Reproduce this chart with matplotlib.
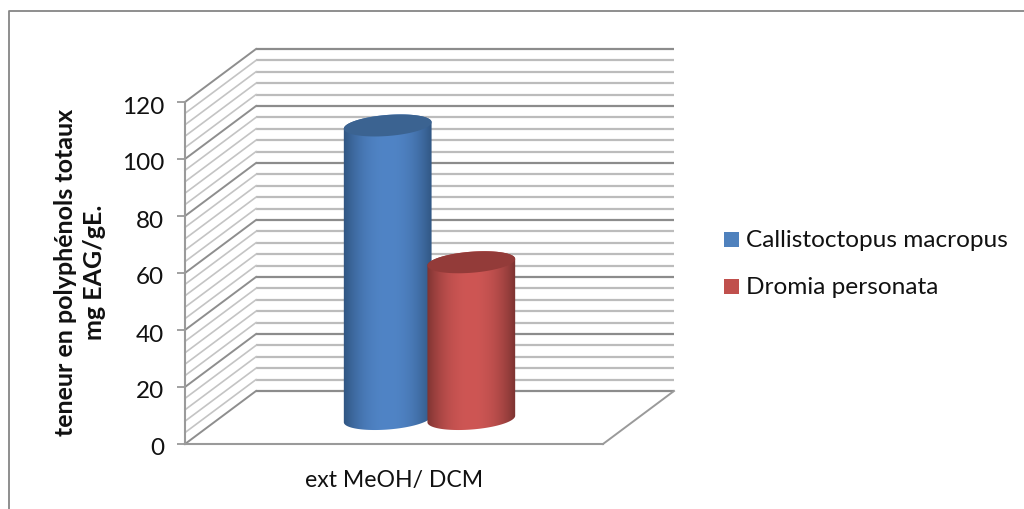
import matplotlib
matplotlib.use("Agg")
import matplotlib.pyplot as plt
import numpy as np
from matplotlib.lines import Line2D
from matplotlib.path import Path
from matplotlib.patches import PathPatch, Rectangle
from matplotlib.transforms import Affine2D, IdentityTransform, ScaledTranslation

plt.rcParams["font.family"] = ["Lato", "DejaVu Sans"]

# ---- data ----
category = "ext MeOH/ DCM"
series_names = ["Callistoctopus macropus", "Dromia personata"]
series_values = [103, 55]
bar_positions = [0.4, 0.6]
y_ticks = [0, 20, 40, 60, 80, 100, 120]
minor_step = 4

# ---- styles ----
face_colors = ["#4f81bd", "#c0504d"]
mid_colors = ["#5084c6", "#ce5654"]
edge_colors = ["#2f5480", "#7a3230"]
top_colors = ["#3b6391", "#933b39"]
major_grid = "#8c8c8c"
minor_grid = "#bcbcbc"

W, H = 1024, 510
DEPTH_X, DEPTH_Y = 71, 53


def to_fig(px0, px1, py0, py1):
    return [px0 / W, 1 - py1 / H, (px1 - px0) / W, (py1 - py0) / H]


fig = plt.figure(figsize=(W / 100, H / 100), dpi=100)

# chart frame, only the top and left sides fall inside the figure
fig.add_artist(Line2D([8.5 / W, 8.5 / W, 1], [0, 1 - 11.5 / H, 1 - 11.5 / H], transform=fig.transFigure,
                      color="#868686", lw=1.3))

ax = fig.add_axes(to_fig(185, 603, 103, 445))
ax.set_xlim(0, 1)
ax.set_ylim(0, 120)
ax.patch.set_visible(False)
for name in ["top", "right"]:
    ax.spines[name].set_visible(False)
for name in ["left", "bottom"]:
    ax.spines[name].set_color("#9a9a9a")
    ax.spines[name].set_linewidth(1.5)

ax.set_yticks(y_ticks)
ax.tick_params(axis="y", length=6, width=1.3, color="#9a9a9a", labelsize=17.5, pad=9, labelcolor="#111111")
ax.set_xticks([0.5])
ax.set_xticklabels([category])
ax.tick_params(axis="x", length=0, labelsize=16.6, pad=18, labelcolor="#111111")

# nudge the value labels down a little
for label in ax.get_yticklabels():
    label.set_transform(label.get_transform() + ScaledTranslation(0, -2 / 100, fig.dpi_scale_trans))

back = ax.transData + Affine2D().translate(DEPTH_X, DEPTH_Y)
mid = ax.transData + Affine2D().translate(DEPTH_X / 2, 25)

# side wall and back wall grid
levels = np.arange(0, 120 + minor_step, minor_step)
for v in levels:
    major = v % 20 == 0
    color = major_grid if major else minor_grid
    zorder = 1.2 if major else 1
    ax.plot([0, 1], [v, v], transform=back, color=color, lw=1.6, clip_on=False, zorder=zorder, solid_capstyle="butt")
    p0 = ax.transData.transform((0, v))
    p1 = back.transform((0, v))
    ax.plot([p0[0], p1[0]], [p0[1], p1[1]], transform=IdentityTransform(),
            color="#8e8e8e" if major else "#c4c4c4", lw=1.4 if major else 1.2, clip_on=False, zorder=zorder)

# right edge of the floor
p0 = ax.transData.transform((1, 0))
p1 = back.transform((1, 0))
ax.plot([p0[0], p1[0]], [p0[1], p1[1]], transform=IdentityTransform(), color="#9a9a9a", lw=1.4, clip_on=False)


def ellipse_points(center, a, b, tilt, t):
    x = a * np.cos(t) * np.cos(tilt) - b * np.sin(t) * np.sin(tilt)
    y = a * np.cos(t) * np.sin(tilt) + b * np.sin(t) * np.cos(tilt)
    return np.column_stack([center[0] + x, center[1] + y])


def draw_cylinder(pos, value, width, mid_col, edge_col, top_col, z):
    base = mid.transform((pos, 0))
    top = mid.transform((pos, value))
    right = ax.transData.transform((pos + width / 2, 0))[0]
    left = ax.transData.transform((pos - width / 2, 0))[0]
    a = (right - left) / 2
    b, tilt = 10.5, np.radians(4.5)

    # find the ellipse extremes in x so the sides meet the caps cleanly
    t_edge = np.arctan2(-b * np.sin(tilt), a * np.cos(tilt))
    lower = np.linspace(t_edge + np.pi, t_edge + 2 * np.pi, 60)
    upper = np.linspace(t_edge, t_edge + np.pi, 60)
    outline = np.vstack([ellipse_points(base, a, b, tilt, lower),
                         ellipse_points(top, a, b, tilt, upper)])
    body = PathPatch(Path(np.vstack([outline, outline[:1]])), transform=IdentityTransform(),
                     fc="none", ec="none", zorder=z)
    ax.add_patch(body)

    # shading across the cylinder, dark at the edges and light in the middle
    u = np.linspace(-1, 1, 200)
    shade = np.abs(u) ** 2.2
    c0 = np.array(matplotlib.colors.to_rgb(mid_col))
    c1 = np.array(matplotlib.colors.to_rgb(edge_col))
    rgb = (c0[None, :] * (1 - shade[:, None]) + c1[None, :] * shade[:, None])[None, :, :]
    im = ax.imshow(rgb, extent=(base[0] - a - 1, base[0] + a + 1, base[1] - 15, top[1] + 15),
                   transform=IdentityTransform(), aspect="auto", zorder=z, interpolation="bilinear")
    im.set_clip_path(body)

    cap = ellipse_points(top, a, b, tilt, np.linspace(0, 2 * np.pi, 120))
    ax.fill(cap[:, 0], cap[:, 1], transform=IdentityTransform(), color=top_col, lw=0, zorder=z + 0.1, clip_on=False)


bar_width = 88 / 418
for i, (pos, val) in enumerate(zip(bar_positions, series_values)):
    draw_cylinder(pos, val, bar_width, mid_colors[i], edge_colors[i], top_colors[i], 3 + i)

ax.set_xlim(0, 1)
ax.set_ylim(0, 120)
ax.set_aspect("auto")

# y axis title on two lines
fig.text(80 / W, 1 - 272.5 / H, "teneur en polyphénols totaux\nmg EAG/gE.", rotation=90, ha="center", va="center",
         fontsize=18, fontweight="bold", color="#111111", linespacing=1.28)

# legend
leg_y = [241, 288]
for name, color, y in zip(series_names, face_colors, leg_y):
    fig.add_artist(Rectangle((724 / W, 1 - (y - 1 + 7.5) / H), 15 / W, 15 / H, transform=fig.transFigure, fc=color, ec="none"))
    fig.text(746 / W, 1 - y / H, name, ha="left", va="center", fontsize=17.6, color="#111111")

fig.savefig("out.png", dpi=100)
